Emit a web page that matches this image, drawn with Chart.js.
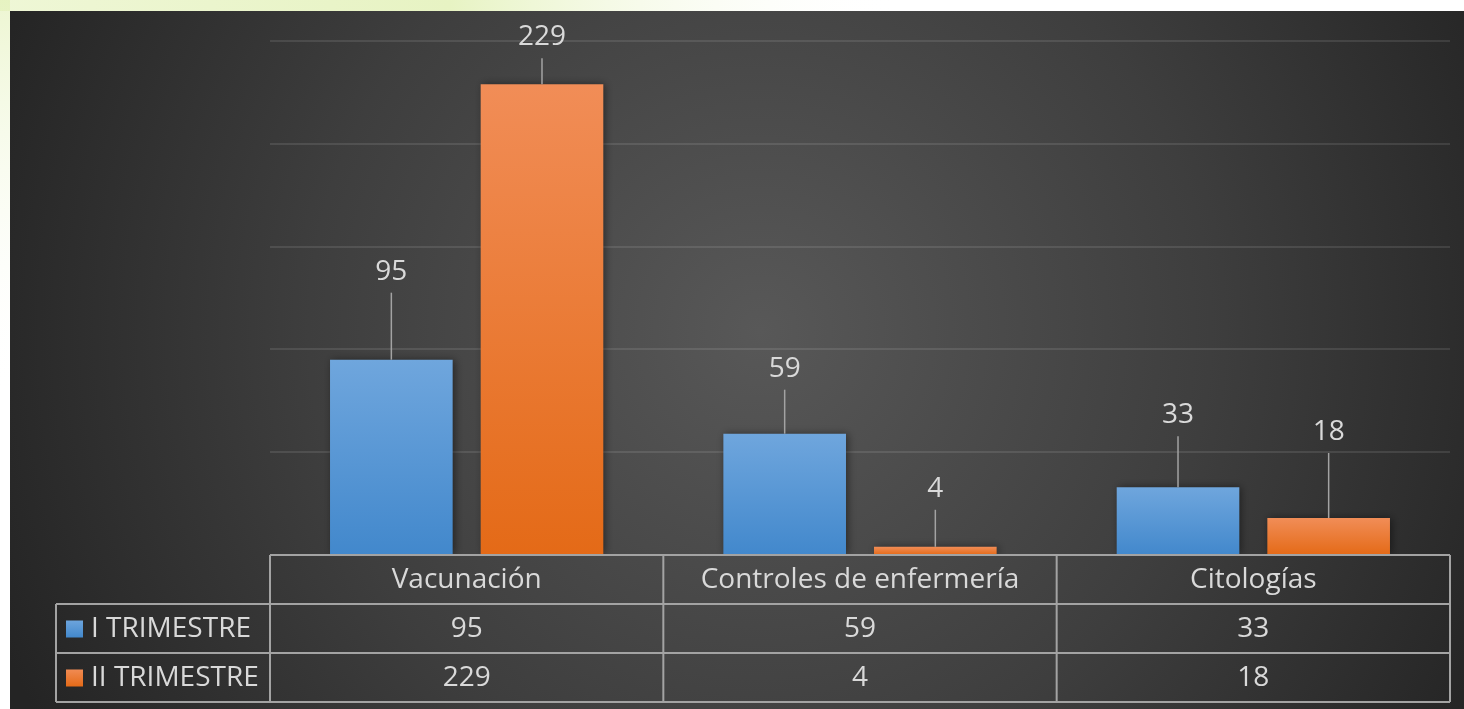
<!DOCTYPE html>
<html>
<head>
<meta charset="utf-8">
<script src="https://cdn.jsdelivr.net/npm/chart.js@4"></script>
<style>
  html, body { margin: 0; padding: 0; background: #fff; }
  #wrap { position: relative; width: 1464px; height: 709px; }
</style>
</head>
<body>
<div id="wrap"><canvas id="chart" width="1464" height="709"></canvas></div>
<script>
const categories = ['Vacunación', 'Controles de enfermería', 'Citologías']
const seriesNames = ['I TRIMESTRE', 'II TRIMESTRE']
const trimestre1 = [95, 59, 33]
const trimestre2 = [229, 4, 18]
const yMax = 250
const yStep = 50

const FONT = '"Open Sans", "Noto Sans", sans-serif'
const TEXT = '#d9d9d9'
const LINE = '#a3a3a3'
const swatch = [['#6fa6dd', '#4288cc'], ['#f18d57', '#e46a17']]

// per bar gradient, light at the top
const barFill = (i) => (ctx) => {
	const chart = ctx.chart
	const area = chart.chartArea
	if (!area || ctx.raw === undefined) return swatch[i][1]
	const top = chart.scales.y.getPixelForValue(ctx.raw)
	const g = chart.ctx.createLinearGradient(0, top, 0, area.bottom)
	g.addColorStop(0, swatch[i][0])
	g.addColorStop(1, swatch[i][1])
	return g
}

const backdrop = {
	id: 'backdrop',
	beforeDraw(chart) {
		const { ctx, width, height } = chart
		ctx.save()
		ctx.fillStyle = '#ffffff'
		ctx.fillRect(0, 0, width, height)
		const page = ctx.createLinearGradient(0, 0, 900, 0)
		page.addColorStop(0, 'rgba(225,240,180,0.55)')
		page.addColorStop(0.5, 'rgba(225,240,180,0.8)')
		page.addColorStop(1, 'rgba(255,255,255,0)')
		ctx.fillStyle = page
		ctx.fillRect(0, 0, width, 11)
		const side = ctx.createLinearGradient(0, 0, 0, 400)
		side.addColorStop(0, 'rgba(225,240,180,0.6)')
		side.addColorStop(1, 'rgba(255,255,255,0)')
		ctx.fillStyle = side
		ctx.fillRect(0, 0, 10, 400)
		const bg = ctx.createRadialGradient(760, 330, 0, 760, 330, 820)
		bg.addColorStop(0, '#585858')
		bg.addColorStop(0.55, '#3e3e3e')
		bg.addColorStop(1, '#242424')
		ctx.fillStyle = bg
		ctx.fillRect(10, 11, width - 10, height - 11)
		ctx.restore()
	},
	beforeDatasetsDraw(chart) {
		const ctx = chart.ctx
		ctx.save()
		ctx.shadowColor = 'rgba(0,0,0,0.45)'
		ctx.shadowBlur = 8
		ctx.shadowOffsetX = 2
		ctx.shadowOffsetY = 0
	},
	afterDatasetsDraw(chart) {
		chart.ctx.restore()
	}
}

const valueLabels = {
	id: 'valueLabels',
	afterDatasetsDraw(chart, args, opts) {
		const ctx = chart.ctx
		ctx.save()
		ctx.font = '28px ' + FONT
		ctx.textAlign = 'center'
		ctx.textBaseline = 'middle'
		chart.data.datasets.forEach((ds, d) => {
			chart.getDatasetMeta(d).data.forEach((bar, i) => {
				const ly = bar.y - opts.lift[d][i]
				ctx.strokeStyle = LINE
				ctx.lineWidth = 1.5
				ctx.beginPath()
				ctx.moveTo(bar.x, ly + 21)
				ctx.lineTo(bar.x, bar.y)
				ctx.stroke()
				ctx.fillStyle = TEXT
				ctx.fillText(ds.data[i], bar.x, ly)
			})
		})
		ctx.restore()
	}
}

const dataTable = {
	id: 'dataTable',
	afterDraw(chart, args, opts) {
		const ctx = chart.ctx
		const area = chart.chartArea
		const rowH = opts.rowHeight
		const colW = (area.right - area.left) / categories.length
		const rows = [area.bottom, area.bottom + rowH, area.bottom + 2 * rowH, area.bottom + 3 * rowH]
		const left = opts.legendLeft
		ctx.save()
		ctx.strokeStyle = LINE
		ctx.lineWidth = 2
		ctx.beginPath()
		// header row spans only the category columns
		ctx.moveTo(area.left, rows[0]); ctx.lineTo(area.right, rows[0])
		for (let r = 1; r < rows.length; r++) {
			ctx.moveTo(left, rows[r]); ctx.lineTo(area.right, rows[r])
		}
		ctx.moveTo(left, rows[1]); ctx.lineTo(left, rows[3])
		for (let c = 0; c <= categories.length; c++) {
			const x = area.left + c * colW
			ctx.moveTo(x, rows[0]); ctx.lineTo(x, rows[3])
		}
		ctx.stroke()

		ctx.font = '28px ' + FONT
		ctx.fillStyle = TEXT
		ctx.textAlign = 'center'
		ctx.textBaseline = 'middle'
		categories.forEach((cat, c) => {
			const cx = area.left + (c + 0.5) * colW
			ctx.fillText(cat, cx, rows[0] + rowH / 2 + 1)
			chart.data.datasets.forEach((ds, d) => {
				ctx.fillText(ds.data[c], cx, rows[d + 1] + rowH / 2 + 1)
			})
		})
		ctx.textAlign = 'left'
		chart.data.datasets.forEach((ds, d) => {
			const cy = rows[d + 1] + rowH / 2
			const g = ctx.createLinearGradient(0, cy - 9, 0, cy + 9)
			g.addColorStop(0, swatch[d][0])
			g.addColorStop(1, swatch[d][1])
			ctx.fillStyle = g
			ctx.fillRect(66, cy - 8, 17, 17)
			ctx.fillStyle = TEXT
			ctx.fillText(ds.label, 91, cy + 1)
		})
		ctx.restore()
	}
}

new Chart(document.getElementById('chart'), {
	type: 'bar',
	data: {
		labels: categories,
		datasets: [
			{ label: seriesNames[0], data: trimestre1, backgroundColor: barFill(0) },
			{ label: seriesNames[1], data: trimestre2, backgroundColor: barFill(1) }
		]
	},
	options: {
		responsive: false,
		animation: false,
		events: [],
		layout: { padding: { left: 270, right: 14, top: 41, bottom: 154 } },
		datasets: { bar: { categoryPercentage: 0.766, barPercentage: 0.814 } },
		scales: {
			x: { display: false },
			y: {
				min: 0,
				max: yMax,
				display: true,
				ticks: { display: false, stepSize: yStep },
				border: { display: false },
				grid: { color: 'rgba(255,255,255,0.1)', lineWidth: 2, drawTicks: false }
			}
		},
		plugins: {
			legend: { display: false },
			tooltip: { enabled: false },
			valueLabels: { lift: [[88, 65, 72], [47, 58, 86]] },
			dataTable: { rowHeight: 49, legendLeft: 56 }
		}
	},
	plugins: [backdrop, valueLabels, dataTable]
})
</script>
</body>
</html>
